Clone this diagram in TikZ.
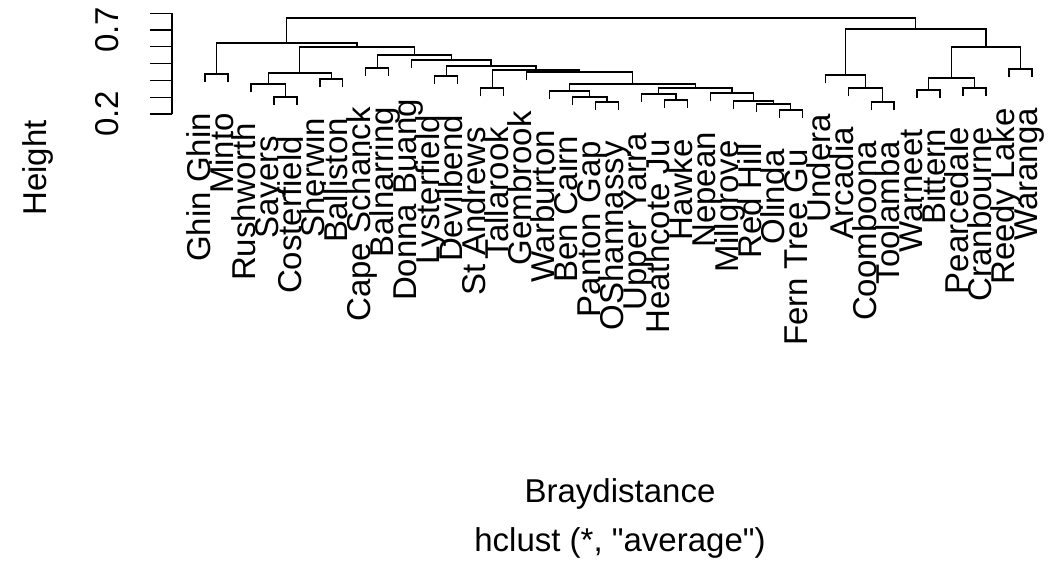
\documentclass[tikz,border=0pt]{standalone}
\usepackage{fontspec}
\setmainfont{Liberation Sans}
\newfontfamily\dendfamily{Liberation Sans}
\usepackage{tikz}
\newcommand\dendfont{\dendfamily\fontsize{33}{40}\selectfont}

\begin{document}
\begin{tikzpicture}[x=1pt,y=-1pt,line width=1.3pt,
    leaf/.style={rotate=90,anchor=base east,inner sep=0pt,font=\dendfont},
    axlabel/.style={rotate=90,inner sep=0pt,font=\dendfont},
    title/.style={inner sep=0pt,font=\dendfont}]
        \useasboundingbox (0,0) rectangle (1049,569);
        % leaves
        \coordinate (t1) at (205.0,82.5);   \node[leaf] (l1) at (210.0,112.5) {Ghin Ghin};
        \coordinate (t2) at (228.0,82.5);   \node[leaf] (l2) at (233.0,112.5) {Minto};
        \coordinate (t3) at (250.9,92.5);   \node[leaf] (l3) at (255.9,122.5) {Rushworth};
        \coordinate (t4) at (273.9,105.5);  \node[leaf] (l4) at (278.9,135.5) {Sayers};
        \coordinate (t5) at (296.9,105.5);  \node[leaf] (l5) at (301.9,135.5) {Costerfield};
        \coordinate (t6) at (319.9,87.5);   \node[leaf] (l6) at (324.9,117.5) {Sherwin};
        \coordinate (t7) at (342.8,87.5);   \node[leaf] (l7) at (347.8,117.5) {Balliston};
        \coordinate (t8) at (365.8,76.5);   \node[leaf] (l8) at (370.8,106.5) {Cape Schanck};
        \coordinate (t9) at (388.8,76.5);   \node[leaf] (l9) at (393.8,106.5) {Balnarring};
        \coordinate (t10) at (411.7,68.5);  \node[leaf] (l10) at (416.7,98.5) {Donna Buang};
        \coordinate (t11) at (434.7,84.5);  \node[leaf] (l11) at (439.7,114.5) {Lysterfield};
        \coordinate (t12) at (457.7,84.5);  \node[leaf] (l12) at (462.7,114.5) {Devilbend};
        \coordinate (t13) at (480.7,96.5);  \node[leaf] (l13) at (485.7,126.5) {St Andrews};
        \coordinate (t14) at (503.6,96.5);  \node[leaf] (l14) at (508.6,126.5) {Tallarook};
        \coordinate (t15) at (526.6,80.5);  \node[leaf] (l15) at (531.6,110.5) {Gembrook};
        \coordinate (t16) at (549.6,99.5);  \node[leaf] (l16) at (554.6,129.5) {Warburton};
        \coordinate (t17) at (572.6,105.5); \node[leaf] (l17) at (577.6,135.5) {Ben Cairn};
        \coordinate (t18) at (595.5,110.5); \node[leaf] (l18) at (600.5,140.5) {Panton Gap};
        \coordinate (t19) at (618.5,110.5); \node[leaf] (l19) at (623.5,140.5) {OShannassy};
        \coordinate (t20) at (641.5,102.5); \node[leaf] (l20) at (646.5,132.5) {Upper Yarra};
        \coordinate (t21) at (664.4,108.5); \node[leaf] (l21) at (669.4,138.5) {Heathcote Ju};
        \coordinate (t22) at (687.4,108.5); \node[leaf] (l22) at (692.4,138.5) {Hawke};
        \coordinate (t23) at (710.4,101.5); \node[leaf] (l23) at (715.4,131.5) {Nepean};
        \coordinate (t24) at (733.4,109.5); \node[leaf] (l24) at (738.4,139.5) {Millgrove};
        \coordinate (t25) at (756.3,112.5); \node[leaf] (l25) at (761.3,142.5) {Red Hill};
        \coordinate (t26) at (779.3,118.5); \node[leaf] (l26) at (784.3,148.5) {Olinda};
        \coordinate (t27) at (802.3,118.5); \node[leaf] (l27) at (807.3,148.5) {Fern Tree Gu};
        \coordinate (t28) at (825.2,83.5);  \node[leaf] (l28) at (830.2,113.5) {Undera};
        \coordinate (t29) at (848.2,96.5);  \node[leaf] (l29) at (853.2,126.5) {Arcadia};
        \coordinate (t30) at (871.2,110.5); \node[leaf] (l30) at (876.2,140.5) {Coomboona};
        \coordinate (t31) at (894.1,110.5); \node[leaf] (l31) at (899.1,140.5) {Toolamba};
        \coordinate (t32) at (917.1,98.5);  \node[leaf] (l32) at (922.1,128.5) {Warneet};
        \coordinate (t33) at (940.1,98.5);  \node[leaf] (l33) at (945.1,128.5) {Bittern};
        \coordinate (t34) at (963.1,96.5);  \node[leaf] (l34) at (968.1,126.5) {Pearcedale};
        \coordinate (t35) at (986.0,96.5);  \node[leaf] (l35) at (991.0,126.5) {Cranbourne};
        \coordinate (t36) at (1009.0,77.5); \node[leaf] (l36) at (1014.0,107.5) {Reedy Lake};
        \coordinate (t37) at (1032.0,77.5); \node[leaf] (l37) at (1037.0,107.5) {Waranga};

        % merges
        \coordinate (n12) at (216.5,74);
        \coordinate (n45) at (285.4,97);
        \coordinate (n345) at (268.2,84);
        \coordinate (n67) at (331.4,79);
        \coordinate (n37) at (299.8,73);
        \coordinate (n89) at (377.3,68);
        \coordinate (n1112) at (446.2,76);
        \coordinate (n1314) at (492.2,88);
        \coordinate (n1819) at (607.0,102);
        \coordinate (n1719) at (589.8,97);
        \coordinate (n1619) at (569.7,91);
        \coordinate (n2122) at (675.9,100);
        \coordinate (n2022) at (658.7,94);
        \coordinate (n2627) at (790.8,110);
        \coordinate (n2527) at (773.6,104);
        \coordinate (n2427) at (753.5,101);
        \coordinate (n2327) at (732.0,93);
        \coordinate (n2027) at (695.3,88);
        \coordinate (n1627) at (632.5,84);
        \coordinate (n1527) at (579.6,72);
        \coordinate (n1327) at (535.9,70);
        \coordinate (n1127) at (491.0,66);
        \coordinate (n1027) at (451.4,60);
        \coordinate (n827) at (414.3,55);
        \coordinate (n327) at (357.1,47);
        \coordinate (n127) at (286.8,43);
        \coordinate (n3031) at (882.7,102);
        \coordinate (n2931) at (865.4,88);
        \coordinate (n2831) at (845.3,75);
        \coordinate (n3233) at (928.6,90);
        \coordinate (n3435) at (974.6,88);
        \coordinate (n3235) at (951.6,78);
        \coordinate (n3637) at (1020.5,69);
        \coordinate (n3237) at (986.0,47);
        \coordinate (n2837) at (915.7,29);
        \coordinate (n137) at (601.3,18);

        \draw (t1) |- (n12) -| (t2);
        \draw (t4) |- (n45) -| (t5);
        \draw (t3) |- (n345) -| (n45);
        \draw (t6) |- (n67) -| (t7);
        \draw (n345) |- (n37) -| (n67);
        \draw (t8) |- (n89) -| (t9);
        \draw (t11) |- (n1112) -| (t12);
        \draw (t13) |- (n1314) -| (t14);
        \draw (t18) |- (n1819) -| (t19);
        \draw (t17) |- (n1719) -| (n1819);
        \draw (t16) |- (n1619) -| (n1719);
        \draw (t21) |- (n2122) -| (t22);
        \draw (t20) |- (n2022) -| (n2122);
        \draw (t26) |- (n2627) -| (t27);
        \draw (t25) |- (n2527) -| (n2627);
        \draw (t24) |- (n2427) -| (n2527);
        \draw (t23) |- (n2327) -| (n2427);
        \draw (n2022) |- (n2027) -| (n2327);
        \draw (n1619) |- (n1627) -| (n2027);
        \draw (t15) |- (n1527) -| (n1627);
        \draw (n1314) |- (n1327) -| (n1527);
        \draw (n1112) |- (n1127) -| (n1327);
        \draw (t10) |- (n1027) -| (n1127);
        \draw (n89) |- (n827) -| (n1027);
        \draw (n37) |- (n327) -| (n827);
        \draw (n12) |- (n127) -| (n327);
        \draw (t30) |- (n3031) -| (t31);
        \draw (t29) |- (n2931) -| (n3031);
        \draw (t28) |- (n2831) -| (n2931);
        \draw (t32) |- (n3233) -| (t33);
        \draw (t34) |- (n3435) -| (t35);
        \draw (n3233) |- (n3235) -| (n3435);
        \draw (t36) |- (n3637) -| (t37);
        \draw (n3235) |- (n3237) -| (n3637);
        \draw (n2831) |- (n2837) -| (n3237);
        \draw (n127) |- (n137) -| (n2837);

        % axis
        \draw (172,13.2) -- (172,114);
        \draw (150,13.2) -- (172,13.2);
        \draw (150,30) -- (172,30);
        \draw (150,46.8) -- (172,46.8);
        \draw (150,63.6) -- (172,63.6);
        \draw (150,80.4) -- (172,80.4);
        \draw (150,97.2) -- (172,97.2);
        \draw (150,114) -- (172,114);
        \node[axlabel] (y2) at (107,114) {0.2};
        \node[axlabel] (y7) at (107,30) {0.7};
        \node[axlabel] (ylab) at (38,168) {Height};
        \node[title] (xlab) at (620,494) {Braydistance};
        \node[title] (sub) at (620,543) {hclust (*, "average")};
    \end{tikzpicture}
\end{document}
